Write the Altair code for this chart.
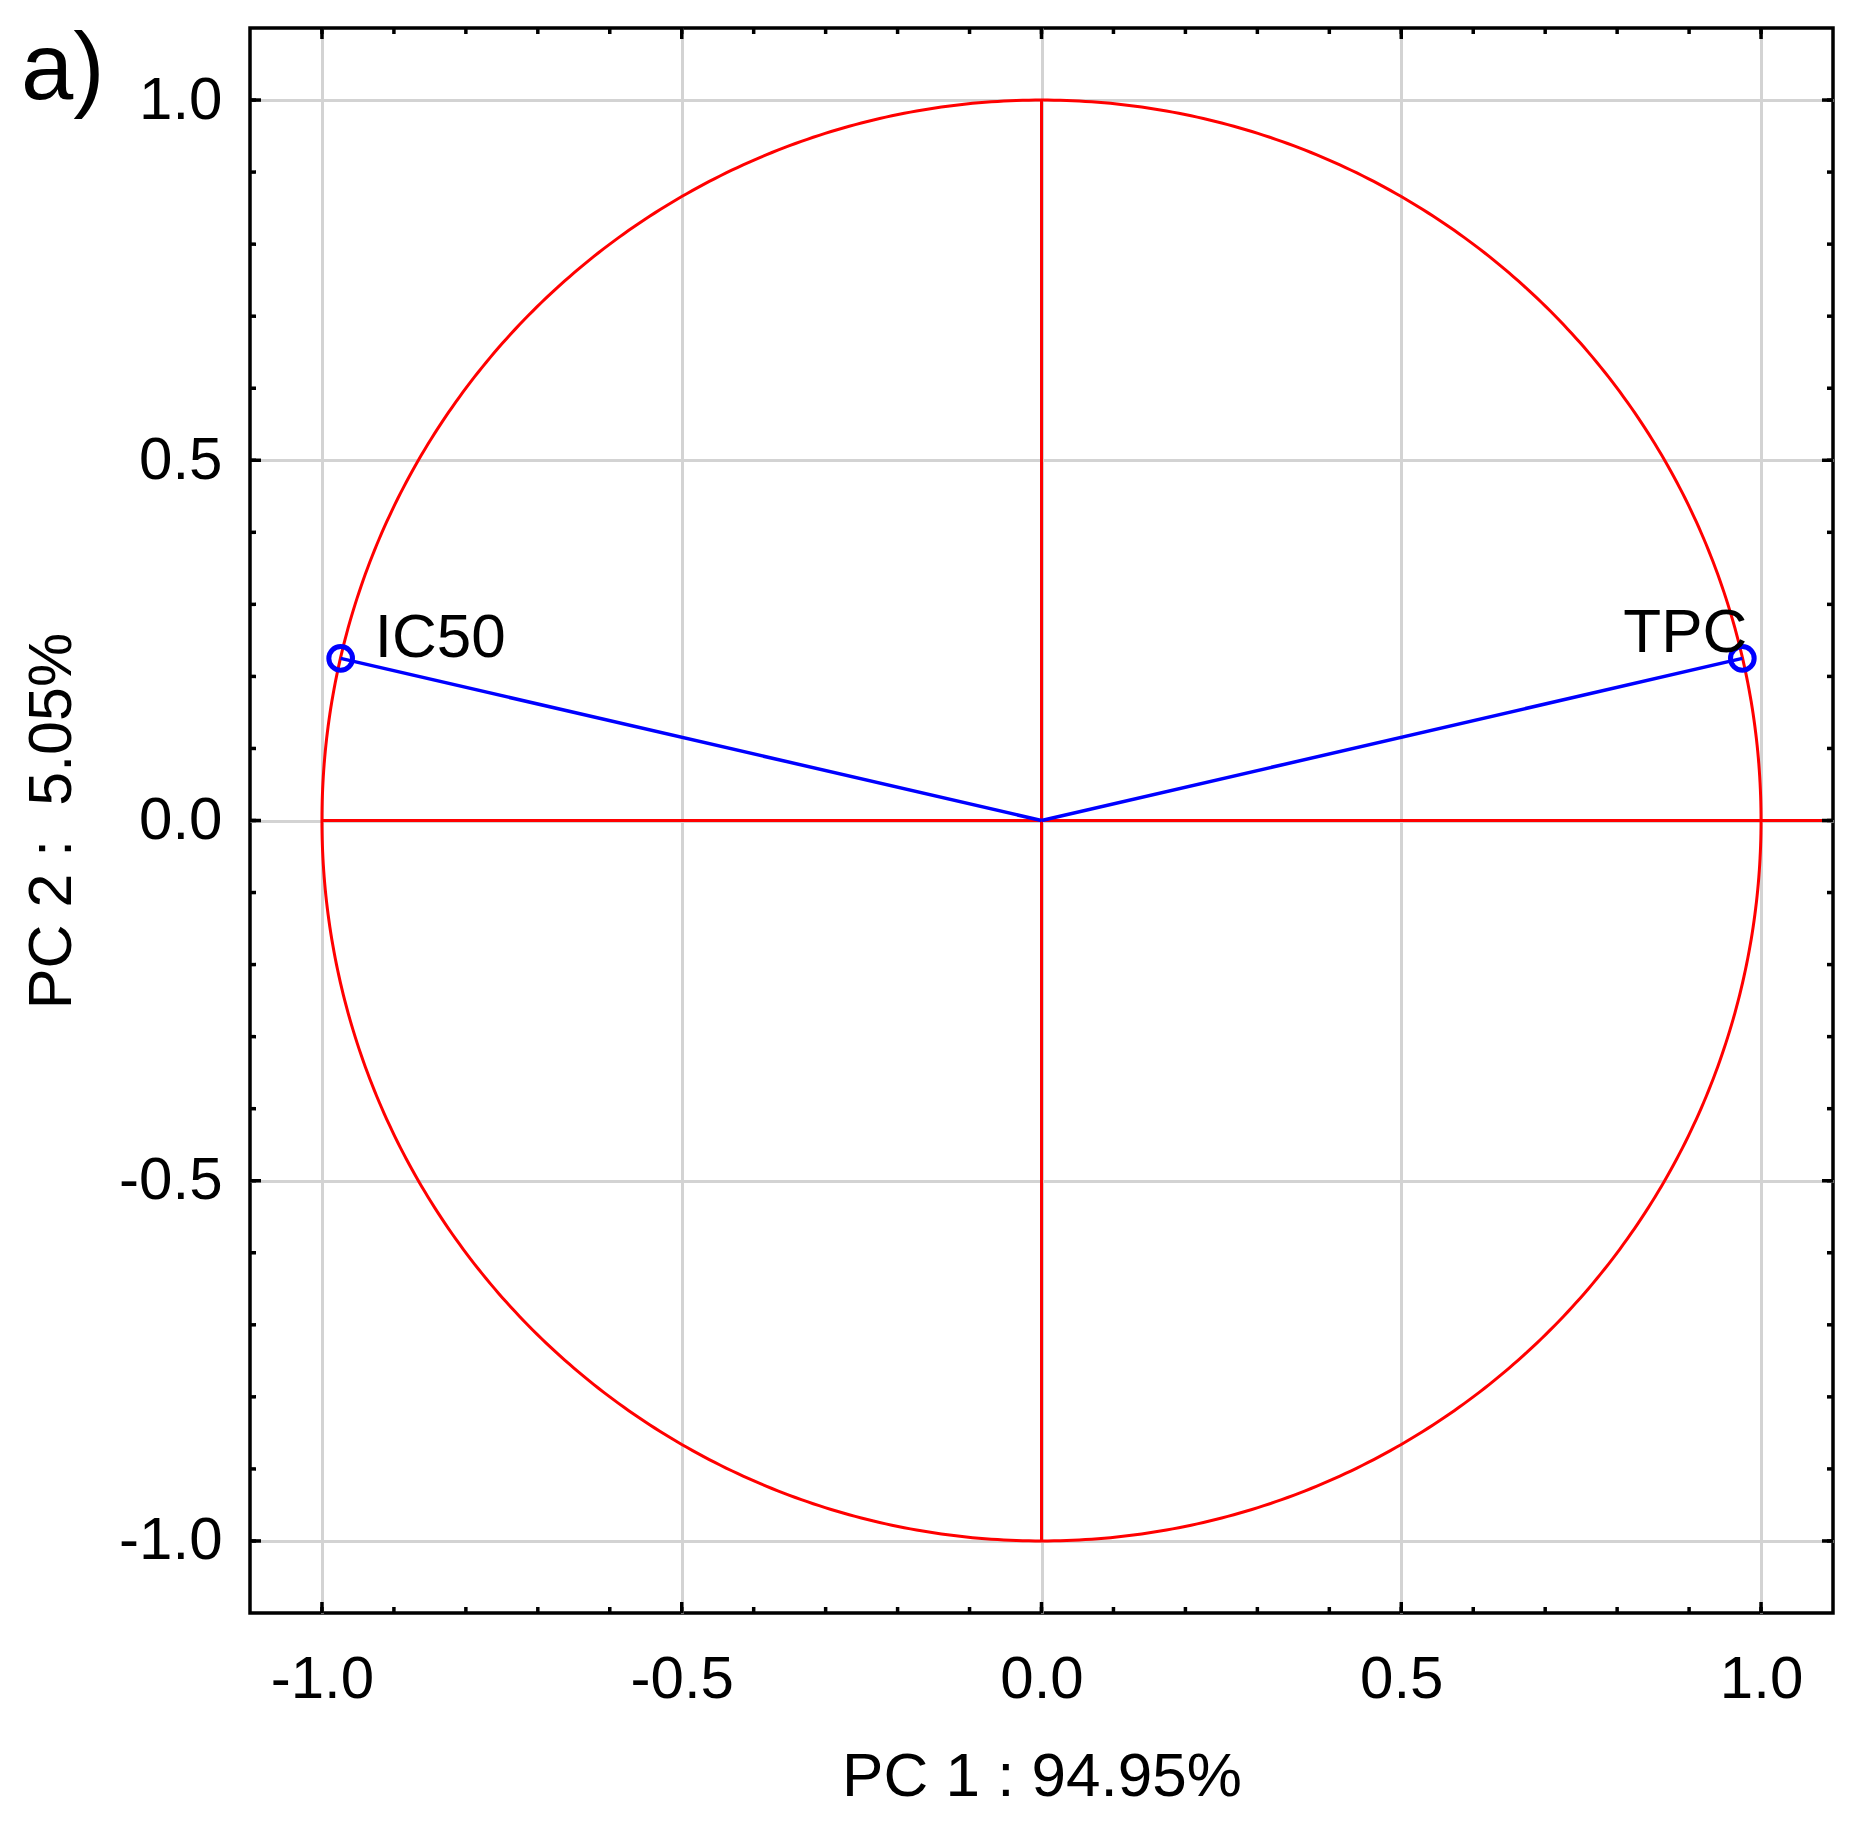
import altair as alt
import numpy as np
import pandas as pd

# PCA loadings of the two variables on the first two components
variables = ["IC50", "TPC"]
pc1 = [-0.974, 0.974]
pc2 = [0.225, 0.225]

# axis tick positions
major_ticks = [-1.0, -0.5, 0.0, 0.5, 1.0]
minor_ticks = [round(-1.0 + 0.1 * i, 1) for i in range(21)]

x_title = "PC 1 : 94.95%"
y_title = "PC 2 :\u00a0 5.05%"
panel_label = "a)"

W, H = 1583, 1585
FONT = "Liberation Sans"
RED = "#ff0000"
BLUE = "#0000ff"
GRID = "#d3d3d3"

loadings = pd.DataFrame({"var": variables, "pc1": pc1, "pc2": pc2,
                         "ox": [0.0, 0.0], "oy": [0.0, 0.0]})

# unit correlation circle
theta = np.linspace(0, 2 * np.pi, 721)
circle = pd.DataFrame({"cx": np.cos(theta), "cy": np.sin(theta), "k": np.arange(len(theta))})

# red reference axes through the origin
cross = pd.DataFrame({"x1": [0.0, -1.0], "x2": [0.0, 1.1], "y1": [-1.0, 0.0], "y2": [1.0, 0.0]})

major = pd.DataFrame({"v": major_ticks})
minor = pd.DataFrame({"v": minor_ticks})

xs = alt.Scale(domain=[-1.1, 1.1], nice=False, zero=False)
ys = alt.Scale(domain=[-1.1, 1.1], nice=False, zero=False)

label_expr = "replace(datum.label, '\u2212', '-')"

x_axis = alt.Axis(
    values=major_ticks, format=".1f", labelExpr=label_expr, title=x_title,
    labelFont=FONT, labelFontSize=60, labelColor="black", labelPadding=37,
    labelFlush=False, labelOverlap=False,
    ticks=False, tickSize=0, domain=False,
    grid=True, gridColor=GRID, gridWidth=3, gridOpacity=1,
    titleFont=FONT, titleFontSize=62, titleFontWeight="normal", titleColor="black",
    titleBaseline="alphabetic", titleAlign="center", titleX=W / 2, titleY=182,
)
y_axis = alt.Axis(
    values=major_ticks, format=".1f", labelExpr=label_expr, title=y_title,
    labelFont=FONT, labelFontSize=60, labelColor="black", labelPadding=28,
    labelFlush=False, labelOverlap=False,
    ticks=False, tickSize=0, domain=False,
    grid=True, gridColor=GRID, gridWidth=3, gridOpacity=1,
    titleFont=FONT, titleFontSize=61, titleFontWeight="normal", titleColor="black",
    titleBaseline="alphabetic", titleAlign="center", titleAngle=270,
    titleX=-180, titleY=H / 2,
)


def X(field):
    return alt.X(field, type="quantitative", scale=xs, axis=x_axis)


def Y(field):
    return alt.Y(field, type="quantitative", scale=ys, axis=y_axis)


circle_layer = alt.Chart(circle).mark_line(color=RED, strokeWidth=3, clip=True).encode(
    x=X("cx"), y=Y("cy"), order="k:Q"
)

cross_layer = alt.Chart(cross).mark_rule(color=RED, strokeWidth=3).encode(
    x=X("x1"), x2="x2", y=Y("y1"), y2="y2"
)

vectors = alt.Chart(loadings).mark_rule(color=BLUE, strokeWidth=3.5).encode(
    x=X("ox"), x2="pc1", y=Y("oy"), y2="pc2"
)

points = alt.Chart(loadings).mark_point(
    shape="circle", filled=False, size=560, strokeWidth=5, color=BLUE, opacity=1
).encode(x=X("pc1"), y=Y("pc2"))

text_style = dict(font=FONT, fontSize=62, color="black", baseline="alphabetic")
label_left = alt.Chart(loadings).transform_filter(alt.datum.pc1 < 0).mark_text(
    align="left", dx=34, dy=-1, **text_style
).encode(x=X("pc1"), y=Y("pc2"), text="var:N")
label_right = alt.Chart(loadings).transform_filter(alt.datum.pc1 > 0).mark_text(
    align="right", dx=5, dy=-6, **text_style
).encode(x=X("pc1"), y=Y("pc2"), text="var:N")

# inward tick marks on all four sides of the frame
tick_style = dict(color="black", strokeWidth=3.5)


def side_ticks(df, length):
    return [
        alt.Chart(df).mark_rule(**tick_style).encode(x=X("v"), y=alt.value(H), y2=alt.value(H - length)),
        alt.Chart(df).mark_rule(**tick_style).encode(x=X("v"), y=alt.value(0), y2=alt.value(length)),
        alt.Chart(df).mark_rule(**tick_style).encode(y=Y("v"), x=alt.value(0), x2=alt.value(length)),
        alt.Chart(df).mark_rule(**tick_style).encode(y=Y("v"), x=alt.value(W), x2=alt.value(W - length)),
    ]


panel = alt.Chart(loadings).transform_filter(alt.datum.pc1 < 0).mark_text(
    font=FONT, fontSize=94, color="black", align="left", baseline="alphabetic"
).encode(x=alt.value(-229), y=alt.value(71), text=alt.value(panel_label))

chart = alt.layer(
    circle_layer, cross_layer, vectors, points, label_left, label_right,
    *side_ticks(minor, 6), *side_ticks(major, 11), panel,
).properties(
    width=W, height=H,
    autosize=alt.AutoSizeParams(type="none"),
    padding={"left": 250, "top": 28, "right": 33, "bottom": 209},
    background="white",
).configure_view(stroke="black", strokeWidth=3.5)

chart.save("out.html", embed_options={"renderer": "svg", "actions": False})
